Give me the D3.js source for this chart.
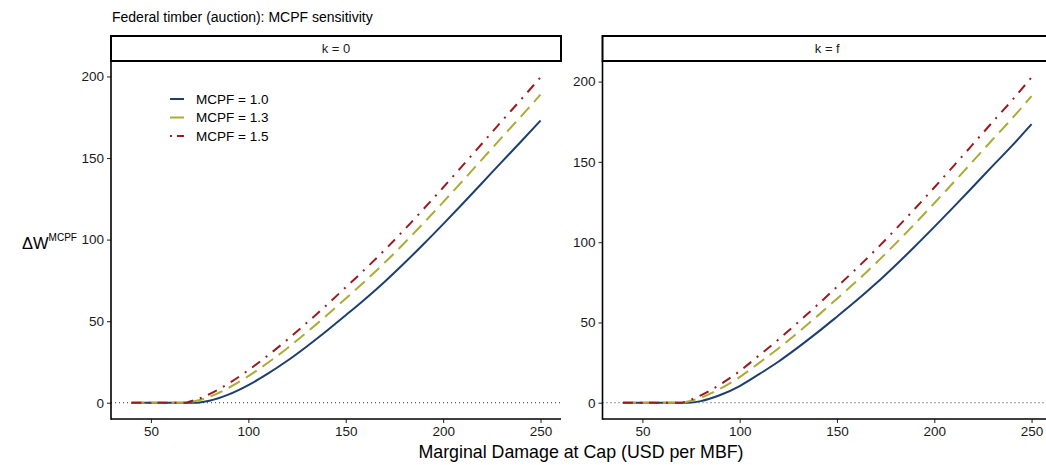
<!DOCTYPE html>
<html><head><meta charset="utf-8">
<script src="https://cdn.jsdelivr.net/npm/d3@7"></script>
<style>
body{margin:0;background:#fff;}
svg{display:block;font-family:"Liberation Sans",Arial,Helvetica,sans-serif;}
</style>
</head><body>
<svg id="chart" width="1046" height="465"></svg>
<script>
// ---- data ----
const marginalDamage = [40,45,50,55,60,65,68,70,72,75,80,90,100,110,120,130,140,150,160,170,180,190,200,210,220,230,240,250];
const panelLabels = ["k = 0", "k = f"];
const seriesLabels = ["MCPF = 1.0", "MCPF = 1.3", "MCPF = 1.5"];
const xTicks = [50, 100, 150, 200, 250];
const yTicks = [0, 50, 100, 150, 200];

const k0_mcpf10 = [0,0,0,0,0,0,0,0,0,0.17,1.2,5.1,10.8,17.8,25.7,34.5,43.8,53.6,63.6,74.2,85.5,97.3,109.5,122,134.7,147.5,160.1,173];
const k0_mcpf13 = [0,0,0,0,0,0,0,0.45,0.87,1.62,3.63,9.18,16.29,24.49,33.44,43.17,53.31,63.89,74.61,85.87,97.8,110.2,122.97,136.01,149.22,162.5,175.55,188.9];
const k0_mcpf15 = [0,0,0,0,0,0,0,0.75,1.45,2.6,5.25,11.9,19.95,28.95,38.6,48.95,59.65,70.75,81.95,93.65,106,118.8,131.95,145.35,158.9,172.5,185.85,199.5];

const kf_mcpf10 = [0,0,0,0,0,0,0,0,0,0.12,1.0,4.8,10.4,17.8,25.7,34.5,43.8,53.6,63.6,74.2,85.5,97.3,109.5,122,134.7,147.5,160.1,173.5];
const kf_mcpf13 = [0,0,0,0,0,0,0,0,0.36,1.2,3.16,8.76,15.98,24.82,33.95,43.83,54.09,64.76,75.57,86.92,98.94,111.4,124.23,137.33,150.6,163.94,177.08,191.02];
const kf_mcpf15 = [0,0,0,0,0,0,0,0,0.6,1.92,4.6,11.4,19.7,29.5,39.45,50.05,60.95,72.2,83.55,95.4,107.9,120.8,134.05,147.55,161.2,174.9,188.4,202.7];

// ---- styles ----
const colors = ["#1d3f6e", "#adab36", "#9a1b1f"];
const dashes = [null, "13,7", "10,7,2,7"];
const legendDashes = [null, null, "2,5,8,5"];

const svg = d3.select("#chart");

const panelDefs = [
  {label: panelLabels[0], series: [k0_mcpf10, k0_mcpf13, k0_mcpf15], x0: 111, x1: 561},
  {label: panelLabels[1], series: [kf_mcpf10, kf_mcpf13, kf_mcpf15], x0: 602.5, x1: 1052}
];
const plotTop = 61, plotBottom = 419, stripTop = 36;

svg.append("text").attr("x", 112).attr("y", 22)
  .attr("font-size", 14).attr("fill", "#000")
  .text("Federal timber (auction): MCPF sensitivity");

const defs = svg.append("defs");

panelDefs.forEach((p, pi) => {
  const xmin = d3.min(marginalDamage), xmax = d3.max(marginalDamage);
  const xpad = (xmax - xmin) * 0.05;
  const x = d3.scaleLinear().domain([xmin - xpad, xmax + xpad]).range([p.x0, p.x1]);
  const ymax = d3.max(p.series.flat()), ymin = 0;
  const ypad = (ymax - ymin) * 0.05;
  const y = d3.scaleLinear().domain([ymin - ypad, ymax + ypad]).range([plotBottom, plotTop]);

  const g = svg.append("g");
  defs.append("clipPath").attr("id", "clip" + pi)
    .append("rect").attr("x", p.x0).attr("y", plotTop).attr("width", p.x1 - p.x0).attr("height", plotBottom - plotTop);

  // zero reference line
  g.append("line")
    .attr("x1", p.x0).attr("x2", p.x1).attr("y1", y(0)).attr("y2", y(0))
    .attr("stroke", "#000").attr("stroke-width", 0.8).attr("stroke-dasharray", "1,3");

  // lines
  const line = d3.line().x((d, i) => x(marginalDamage[i])).y(d => y(d)).curve(d3.curveMonotoneX);
  const lg = g.append("g").attr("clip-path", `url(#clip${pi})`);
  p.series.forEach((s, si) => {
    lg.append("path").datum(s).attr("d", line)
      .attr("fill", "none").attr("stroke", colors[si]).attr("stroke-width", 2)
      .attr("stroke-dasharray", dashes[si]);
  });

  // axes
  const xAxis = d3.axisBottom(x).tickValues(xTicks).tickSize(4).tickPadding(3);
  const gx = g.append("g").attr("transform", `translate(0,${plotBottom})`).call(xAxis);
  gx.select(".domain").remove();
  gx.append("line").attr("x1", p.x0).attr("x2", p.x1).attr("y1", 0).attr("y2", 0)
    .attr("stroke", "#000").attr("stroke-width", 1.6);
  gx.selectAll(".tick line").attr("stroke", "#333").attr("stroke-width", 1.1);
  gx.selectAll(".tick text").attr("font-size", 13.5).attr("fill", "#1a1a1a")
    .attr("font-family", '"Liberation Sans",Arial,sans-serif');

  const yAxis = d3.axisLeft(y).tickValues(yTicks).tickSize(4).tickPadding(3);
  const gy = g.append("g").attr("transform", `translate(${p.x0},0)`).call(yAxis);
  gy.select(".domain").remove();
  gy.append("line").attr("x1", 0).attr("x2", 0).attr("y1", plotTop).attr("y2", plotBottom + 0.8)
    .attr("stroke", "#000").attr("stroke-width", 1.6);
  gy.selectAll(".tick line").attr("stroke", "#333").attr("stroke-width", 1.1);
  gy.selectAll(".tick text").attr("font-size", 13.5).attr("fill", "#1a1a1a")
    .attr("font-family", '"Liberation Sans",Arial,sans-serif');

  // strip
  g.append("rect").attr("x", p.x0).attr("y", stripTop).attr("width", p.x1 - p.x0).attr("height", plotTop - stripTop)
    .attr("fill", "#fff").attr("stroke", "#000").attr("stroke-width", 2);
  g.append("text").attr("x", (p.x0 + p.x1) / 2).attr("y", (stripTop + plotTop) / 2 + 4.5)
    .attr("text-anchor", "middle").attr("font-size", 13).attr("fill", "#1a1a1a").text(p.label);

  // legend in first panel
  if (pi === 0) {
    const leg = g.append("g");
    seriesLabels.forEach((lab, si) => {
      const cy = 99 + si * 18.5;
      leg.append("line").attr("x1", 170).attr("x2", 184).attr("y1", cy).attr("y2", cy)
        .attr("stroke", colors[si]).attr("stroke-width", 2)
        .attr("stroke-dasharray", legendDashes[si]);
      leg.append("text").attr("x", 196).attr("y", cy + 4.8)
        .attr("font-size", 13.5).attr("fill", "#000").text(lab);
    });
  }
});

// axis titles
svg.append("text").attr("x", 581).attr("y", 458).attr("text-anchor", "middle")
  .attr("font-size", 17.8).attr("fill", "#000").text("Marginal Damage at Cap (USD per MBF)");

const yt = svg.append("text").attr("x", 22).attr("y", 249).attr("font-size", 16.5).attr("fill", "#000");
yt.append("tspan").text("ΔW");
yt.append("tspan").attr("dy", -8).attr("font-size", 10).text("MCPF");
</script>
</body></html>
